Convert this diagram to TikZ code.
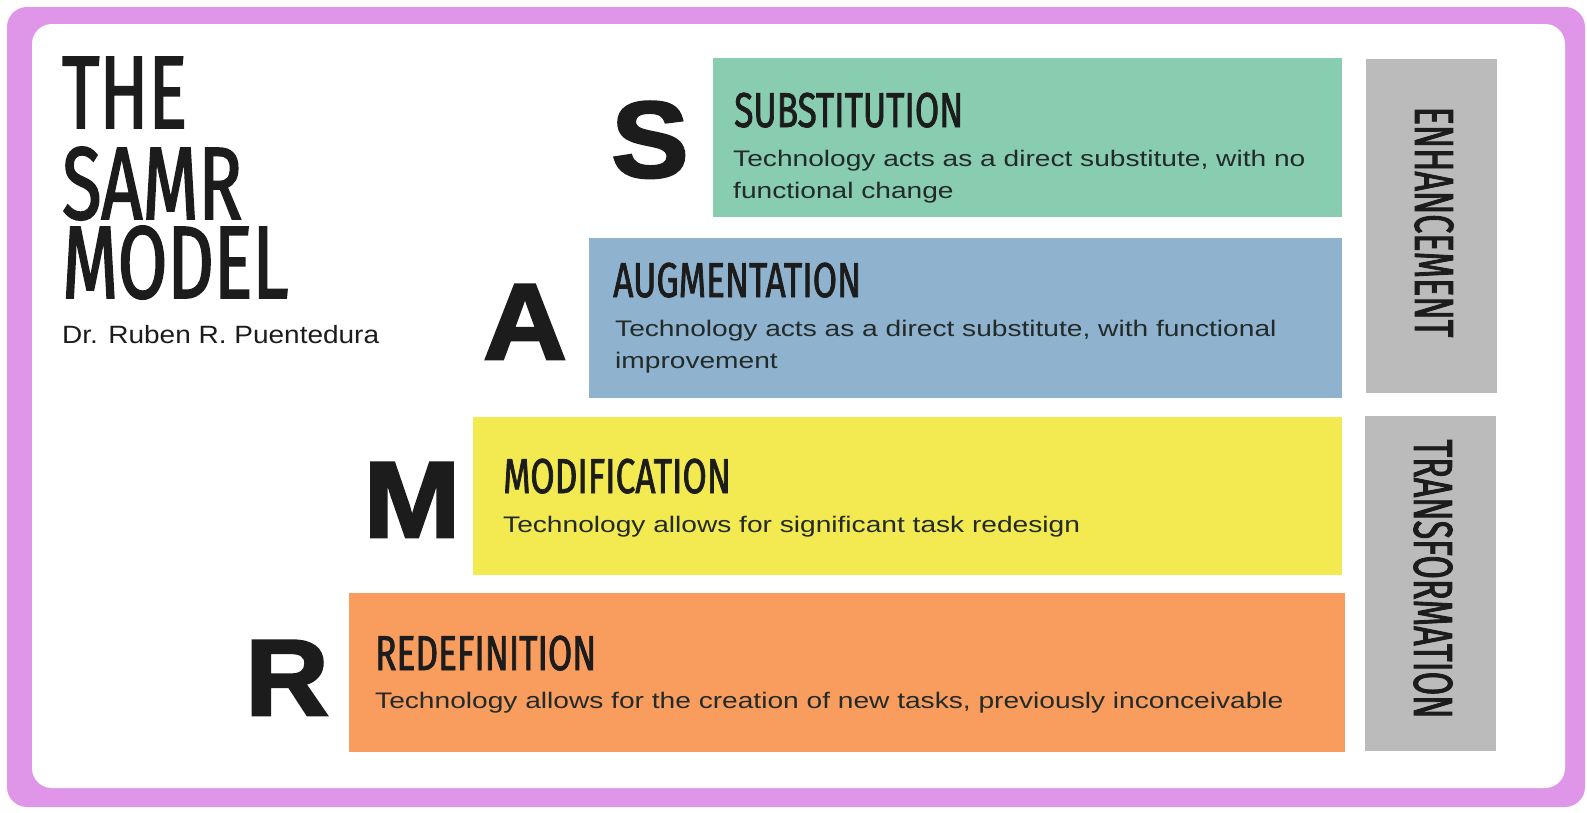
\documentclass[tikz,border=0pt]{standalone}
\usepackage{fontspec}
\setmainfont{Liberation Sans}
\newfontfamily\descfont[FakeStretch=1.25]{Liberation Sans}
\newfontfamily\subfont[FakeStretch=1.12]{Liberation Sans}
\newfontfamily\bigfont[FakeStretch=1.07,FakeBold=2.5]{Liberation Sans Bold}
\newfontfamily\titlefont[FakeStretch=0.72,FakeBold=1.5]{Fira Sans}
\newfontfamily\headfont[FakeStretch=0.70,FakeBold=1.6]{Fira Sans}
\newfontfamily\sidefont[FakeStretch=0.62,FakeBold=1.5]{Fira Sans}
\definecolor{pinkframe}{HTML}{E096E8}
\definecolor{sgreen}{HTML}{88CDB0}
\definecolor{ablue}{HTML}{8FB3CE}
\definecolor{myellow}{HTML}{F2EA50}
\definecolor{rorange}{HTML}{F89D5E}
\definecolor{sidegray}{HTML}{BBBBBB}
\definecolor{ink}{HTML}{1C1C1C}
\definecolor{descink}{HTML}{222A2A}
\begin{document}
\begin{tikzpicture}[x=1pt,y=-1pt,
  band/.style={fill=#1,draw=none,inner sep=0,anchor=north west},
  txt/.style={inner sep=0,anchor=base west,text=ink},
  head/.style={inner sep=0,anchor=base west,text=ink,text height=71pt,text depth=0pt,font=\headfont\fontsize{103}{104}\selectfont},
  desc/.style={inner sep=0,anchor=base west,text=descink,font=\descfont\fontsize{22.5}{27}\selectfont},
  ttl/.style={inner sep=0,anchor=base west,text=ink,font=\titlefont\fontsize{49}{50}\selectfont},
  letter/.style={inner sep=0,anchor=base,text=ink,font=\bigfont\fontsize{108}{110}\selectfont},
  side/.style={inner sep=0,anchor=center,rotate=-90,text=ink,font=\sidefont\fontsize{55}{56}\selectfont}]
\useasboundingbox (0,0) rectangle (1587,812);
\fill[white] (0,0) rectangle (1587,812);
\fill[pinkframe,rounded corners=20pt] (7,7) rectangle (1585,807);
\fill[white,rounded corners=20pt] (32,24) rectangle (1565,788);
% header
\node[head] (the) at (62,128) {THE};
\node[head] (samr) at (62,219) {SAMR};
\node[head] (model) at (62,298) {MODEL};
\node[txt,font=\subfont\fontsize{25}{28}\selectfont] (author) at (62,343) {Dr. Ruben R. Puentedura};
% bands
\node[band=sgreen,minimum width=629pt,minimum height=159pt] (sbox) at (713,58) {};
\node[band=ablue,minimum width=753pt,minimum height=160pt] (abox) at (589,238) {};
\node[band=myellow,minimum width=869pt,minimum height=158pt] (mbox) at (473,417) {};
\node[band=rorange,minimum width=996pt,minimum height=159pt] (rbox) at (349,593) {};
\node[band=sidegray,minimum width=131pt,minimum height=334pt] (enh) at (1366,59) {};
\node[band=sidegray,minimum width=131pt,minimum height=335pt] (trans) at (1365,416) {};
% letters
\node[letter] (sl) at (650,177) {S};
\node[letter] (al) at (525,359) {A};
\node[letter] (ml) at (412,537) {M};
\node[letter] (rl) at (287,715) {R};
% titles and descriptions
\node[ttl] (st) at (734,127) {SUBSTITUTION};
\node[desc] (sd1) at (733,166) {Technology acts as a direct substitute, with no};
\node[desc] (sd2) at (733,198) {functional change};
\node[ttl] (at) at (613,297) {AUGMENTATION};
\node[desc] (ad1) at (615,336) {Technology acts as a direct substitute, with functional};
\node[desc] (ad2) at (615,368) {improvement};
\node[ttl] (mt) at (503,493) {MODIFICATION};
\node[desc] (md1) at (503,532) {Technology allows for significant task redesign};
\node[ttl] (rt) at (375,670) {REDEFINITION};
\node[desc] (rd1) at (375,708) {Technology allows for the creation of new tasks, previously inconceivable};
% side labels
\node[side] (enht) at (1434,222) {ENHANCEMENT};
\node[side] (transt) at (1433,579) {TRANSFORMATION};
\end{tikzpicture}
\end{document}
